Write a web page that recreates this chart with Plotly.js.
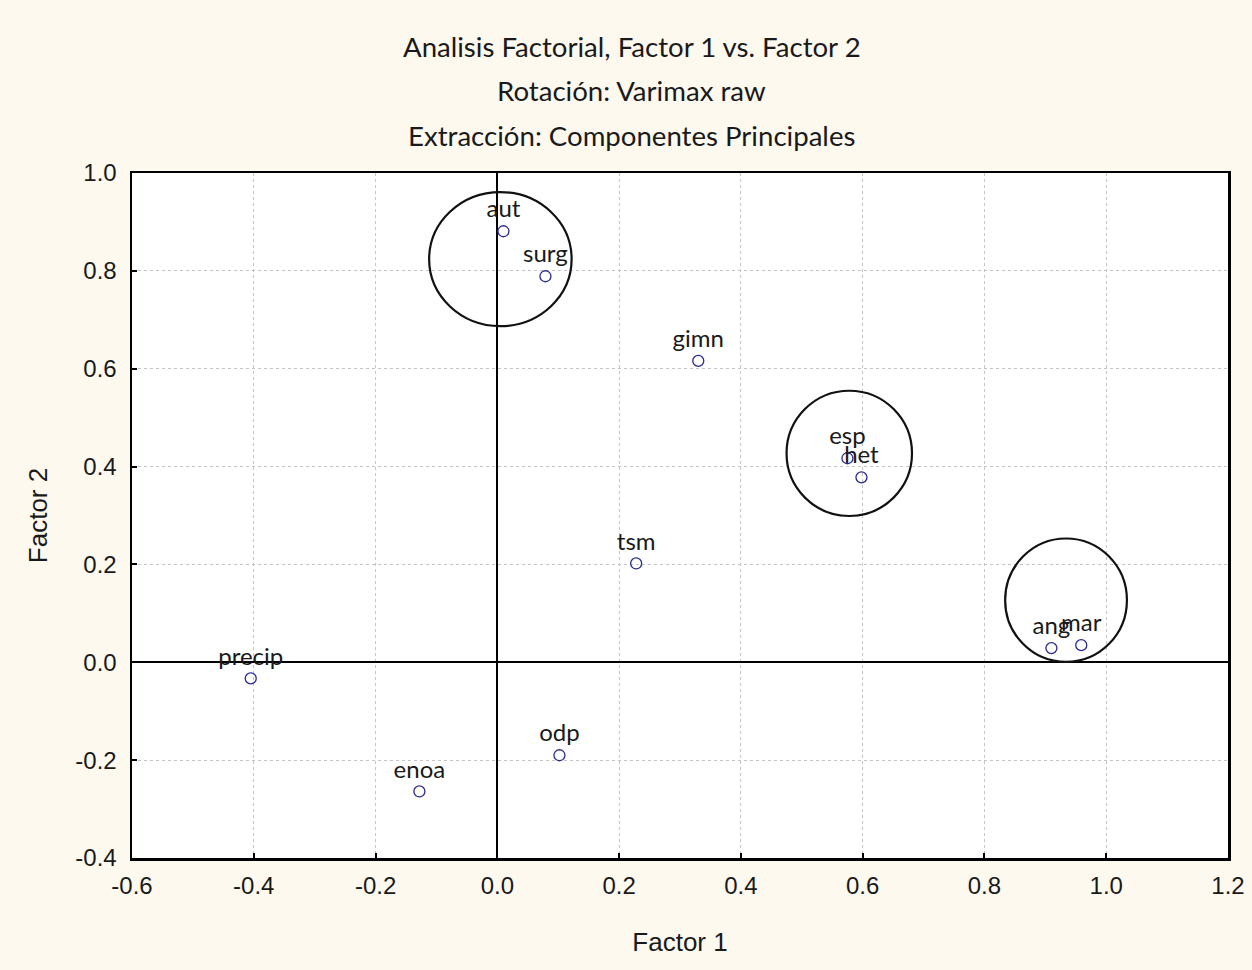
<!DOCTYPE html>
<html>
<head>
<meta charset="utf-8">
<script src="https://cdn.plot.ly/plotly-3.0.1.min.js"></script>
<style>html,body{margin:0;padding:0;background:#fdf9ef;}</style>
</head>
<body>
<div id="chart" style="width:1252px;height:970px;"></div>
<script>
// Variable names and loadings (Factor 1, Factor 2)
const variables = ["aut", "surg", "gimn", "esp", "het", "tsm", "ang", "mar", "precip", "odp", "enoa"];
const factor1 = [0.010, 0.079, 0.330, 0.575, 0.598, 0.228, 0.910, 0.959, -0.405, 0.102, -0.128];
const factor2 = [0.881, 0.789, 0.616, 0.417, 0.378, 0.202, 0.029, 0.035, -0.033, -0.190, -0.264];

// Highlight circles (center x, center y, radius x, radius y) in data units
const circleCx = [0.005, 0.578, 0.934];
const circleCy = [0.824, 0.427, 0.127];
const circleRx = [0.117, 0.103, 0.100];
const circleRy = [0.137, 0.128, 0.126];

// Titles and tick labels
const titleLines = ["Analisis Factorial, Factor 1 vs. Factor 2", "Rotación: Varimax raw", "Extracción: Componentes Principales"];
const xTicks = [-0.6, -0.4, -0.2, 0.0, 0.2, 0.4, 0.6, 0.8, 1.0, 1.2];
const xTickText = ["-0.6", "-0.4", "-0.2", "0.0", "0.2", "0.4", "0.6", "0.8", "1.0", "1.2"];
const yTicks = [-0.4, -0.2, 0.0, 0.2, 0.4, 0.6, 0.8, 1.0];
const yTickText = ["-0.4", "-0.2", "0.0", "0.2", "0.4", "0.6", "0.8", "1.0"];

const labelFont = "Lato, 'Open Sans', sans-serif";
const axisFont = "'Liberation Sans', Arial, sans-serif";

const trace = {
  x: factor1, y: factor2, text: variables,
  type: "scatter", mode: "markers+text",
  textposition: "top center",
  textfont: {family: labelFont, size: 24, color: "#1a1a1a"},
  marker: {symbol: "circle-open", size: 11, color: "#2a2a90", line: {width: 1.3, color: "#2a2a90"}},
  hoverinfo: "skip", cliponaxis: false
};

const shapes = circleCx.map((cx, i) => ({
  type: "circle", xref: "x", yref: "y",
  x0: cx - circleRx[i], x1: cx + circleRx[i],
  y0: circleCy[i] - circleRy[i], y1: circleCy[i] + circleRy[i],
  line: {color: "#111", width: 2.2}
}));

const titleShifts = [127, 83, 38];
const annotations = titleLines.map((t, i) => ({
  text: t, xref: "paper", yref: "paper", x: 0.456, y: 1,
  xanchor: "center", yanchor: "middle", yshift: titleShifts[i],
  showarrow: false, font: {family: labelFont, size: 27.6, color: "#1a1a1a"}
}));

const layout = {
  width: 1252, height: 970,
  paper_bgcolor: "#fdf9ef", plot_bgcolor: "#ffffff",
  margin: {l: 132, r: 24, t: 173, b: 112},
  showlegend: false,
  xaxis: {
    range: [-0.6, 1.2], tickvals: xTicks, ticktext: xTickText,
    ticks: "inside", ticklen: 5, tickwidth: 2, tickcolor: "#000",
    showline: true, mirror: true, linecolor: "#000", linewidth: 2.5,
    showgrid: true, gridcolor: "#c4c4c4", griddash: "dot", gridwidth: 1,
    zeroline: true, zerolinecolor: "#000", zerolinewidth: 2,
    tickfont: {family: axisFont, size: 24, color: "#1a1a1a"},
    ticklabelstandoff: 5,
    title: {text: "Factor 1", font: {family: axisFont, size: 26, color: "#1a1a1a"}, standoff: 35}
  },
  yaxis: {
    range: [-0.4, 1.0], tickvals: yTicks, ticktext: yTickText,
    ticks: "inside", ticklen: 5, tickwidth: 2, tickcolor: "#000",
    showline: true, mirror: true, linecolor: "#000", linewidth: 2.5,
    showgrid: true, gridcolor: "#c4c4c4", griddash: "dot", gridwidth: 1,
    zeroline: true, zerolinecolor: "#000", zerolinewidth: 2,
    tickfont: {family: axisFont, size: 24, color: "#1a1a1a"},
    ticklabelstandoff: 8,
    title: {text: "Factor 2", font: {family: axisFont, size: 26, color: "#1a1a1a"}, standoff: 20}
  },
  shapes: shapes,
  annotations: annotations
};

Plotly.newPlot("chart", [trace], layout, {displayModeBar: false, staticPlot: true});
</script>
</body>
</html>
